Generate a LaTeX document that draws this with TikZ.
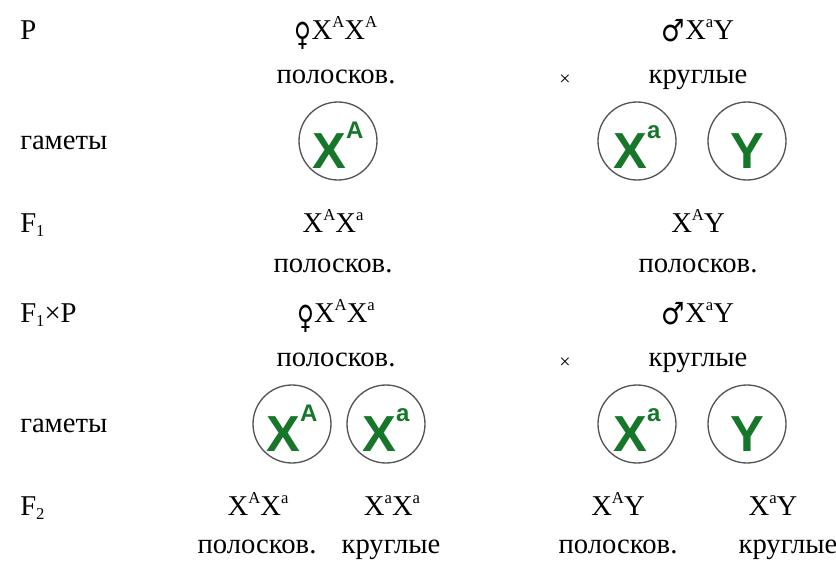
\documentclass[tikz,border=0pt]{standalone}
\usepackage{fontspec}
\setmainfont{Liberation Serif}
\newfontfamily\gamfont{Liberation Sans}
\newfontfamily\symfont{DejaVu Sans}
\usetikzlibrary{positioning}
\definecolor{gamgreen}{RGB}{22,118,42}
\definecolor{ringgray}{RGB}{85,85,85}
\newcommand{\up}[1]{\raisebox{9pt}{\fontsize{12.5}{14}\selectfont #1}}
\newcommand{\dn}[1]{\raisebox{-3.5pt}{\fontsize{12.5}{14}\selectfont #1}}
\newcommand{\gsup}[1]{\rule{0pt}{41.5pt}\raisebox{22.5pt}{\fontsize{18}{20}\selectfont #1}}
\newcommand{\fem}{{\symfont\fontsize{24}{26}\selectfont\raisebox{-5pt}{\scalebox{0.72}[1]{♀}}}}
\newcommand{\mal}{{\symfont\fontsize{23}{26}\selectfont\raisebox{-2pt}{\scalebox{0.85}[1]{♂}}}}

\begin{document}
\begin{tikzpicture}[x=0.75pt,y=-0.75pt,
  txt/.style={anchor=base,inner sep=0pt,font=\fontsize{21.5}{26}\selectfont},
  lbl/.style={txt,anchor=base west},
  gam/.style={circle,draw=ringgray,line width=1pt,minimum size=58.5pt,inner sep=0pt,text=gamgreen,font=\gamfont\bfseries\fontsize{38}{40}\selectfont},
  cross/.style={inner sep=0pt,font=\fontsize{15}{16}\selectfont}]
  \useasboundingbox (0,0) rectangle (836,564);
  % P
  \node[lbl] (p-lbl) at (20,39) {P};
  \node[txt] (p-fem) at (336,39) {\fem X\up{A}X\up{A}};
  \node[txt] (p-fem-ph) at (336,83) {полосков.};
  \node[cross] (p-cross) at (565,80) {×};
  \node[txt] (p-mal) at (698,39) {\mal X\up{a}Y};
  \node[txt] (p-mal-ph) at (698,83) {круглые};
  % gametes of P
  \node[lbl] (g1-lbl) at (20,149) {гаметы};
  \node[gam] (g1-a) at (338,141) {X\gsup{A}};
  \node[gam] (g1-xa) at (637,141) {X\gsup{a}};
  \node[gam] (g1-y) at (747,141) {Y\gsup{\vphantom{A}}};
  % F1
  \node[lbl] (f1-lbl) at (20,232) {F\dn{1}};
  \node[txt] (f1-fem) at (333,232) {X\up{A}X\up{a}};
  \node[txt] (f1-fem-ph) at (333,272) {полосков.};
  \node[txt] (f1-mal) at (698,232) {X\up{A}Y};
  \node[txt] (f1-mal-ph) at (698,272) {полосков.};
  % F1 x P
  \node[lbl] (bc-lbl) at (20,322) {F\dn{1}×P};
  \node[txt] (bc-fem) at (336,322) {\fem X\up{A}X\up{a}};
  \node[txt] (bc-fem-ph) at (336,366) {полосков.};
  \node[cross] (bc-cross) at (565,363) {×};
  \node[txt] (bc-mal) at (698,322) {\mal X\up{a}Y};
  \node[txt] (bc-mal-ph) at (698,366) {круглые};
  % gametes of F1 x P
  \node[lbl] (g2-lbl) at (20,432) {гаметы};
  \node[gam] (g2-a) at (292,424) {X\gsup{A}};
  \node[gam] (g2-xa) at (386,424) {X\gsup{a}};
  \node[gam] (g2-xa2) at (637,424) {X\gsup{a}};
  \node[gam] (g2-y) at (747,424) {Y\gsup{\vphantom{A}}};
  % F2
  \node[lbl] (f2-lbl) at (20,515) {F\dn{2}};
  \node[txt] (f2-aa) at (258,515) {X\up{A}X\up{a}};
  \node[txt] (f2-aa-ph) at (257,553) {полосков.};
  \node[txt] (f2-a2) at (392,515) {X\up{a}X\up{a}};
  \node[txt] (f2-a2-ph) at (391,553) {круглые};
  \node[txt] (f2-ay) at (618,515) {X\up{A}Y};
  \node[txt] (f2-ay-ph) at (618,553) {полосков.};
  \node[txt] (f2-y) at (773,515) {X\up{a}Y};
  \node[txt] (f2-y-ph) at (788,553) {круглые};
\end{tikzpicture}
\end{document}
